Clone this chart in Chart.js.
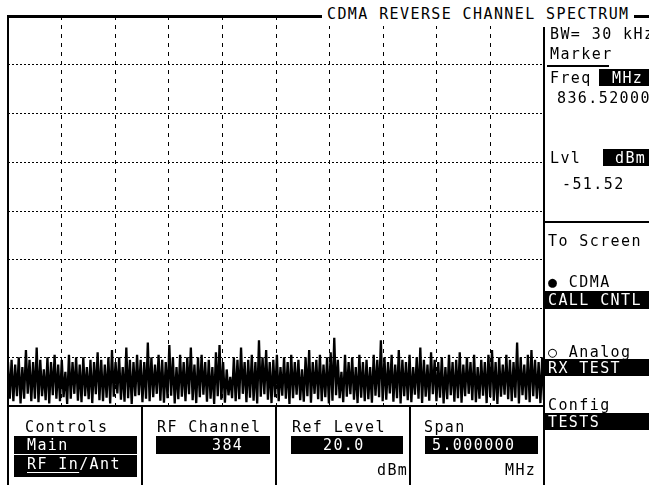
<!DOCTYPE html>
<html>
<head>
<meta charset="utf-8">
<title>CDMA Reverse Channel Spectrum</title>
<script src="https://cdn.jsdelivr.net/npm/chart.js@4"></script>
<style>
  html, body { margin: 0; padding: 0; background: #fff; }
  body { width: 649px; height: 485px; position: relative; overflow: hidden; }
  #scope { position: absolute; left: 0; top: 0; }
  .t {
    position: absolute;
    font-family: "DejaVu Sans Mono", monospace;
    font-size: 15px;
    line-height: 15px;
    letter-spacing: 1.4px;
    color: #000;
    white-space: pre;
  }
  .w { color: #fff; }
  .box, .ln { position: absolute; background: #000; }
  .ul { text-decoration: underline; text-underline-offset: 3px; }
</style>
</head>
<body>
<canvas id="scope" width="649" height="485"></canvas>

<!-- frame -->
<div class="ln" style="left:7px;top:15px;width:2px;height:470px"></div>
<div class="ln" style="left:8px;top:15px;width:314px;height:3px"></div>
<div class="ln" style="left:634px;top:15px;width:15px;height:3px"></div>
<div class="ln" style="left:8px;top:405px;width:536px;height:2px"></div>
<div class="ln" style="left:543px;top:27px;width:2px;height:458px"></div>
<div class="ln" style="left:544px;top:221px;width:105px;height:2px"></div>
<div class="ln" style="left:141px;top:406px;width:2px;height:79px"></div>
<div class="ln" style="left:275px;top:406px;width:2px;height:79px"></div>
<div class="ln" style="left:409px;top:406px;width:2px;height:79px"></div>

<div class="t" style="left:324px;top:5px;background:#fff;padding:2px 2px 4px 3px">CDMA REVERSE CHANNEL SPECTRUM</div>

<!-- right panel -->
<div class="t" style="left:550px;top:27px">BW= 30 kHz</div>
<div class="t" style="left:550px;top:47px">Marker</div>
<div class="ln" style="left:547px;top:65px;width:62px;height:2px"></div>
<div class="t" style="left:550px;top:71px">Freq</div>
<div class="box" style="left:599px;top:69px;width:50px;height:17px"></div>
<div class="t w" style="left:612px;top:71px">MHz</div>
<div class="t" style="left:557px;top:91px">836.52000</div>
<div class="t" style="left:550px;top:151px">Lvl</div>
<div class="box" style="left:603px;top:149px;width:46px;height:17px"></div>
<div class="t w" style="left:615px;top:151px">dBm</div>
<div class="t" style="left:562px;top:177px">-51.52</div>
<div class="t" style="left:548px;top:234px">To Screen</div>
<div class="t" style="left:548px;top:275px">● CDMA</div>
<div class="box" style="left:545px;top:291px;width:104px;height:18px"></div>
<div class="t w" style="left:548px;top:293px">CALL CNTL</div>
<div class="t" style="left:548px;top:345px">○ Analog</div>
<div class="box" style="left:545px;top:359px;width:104px;height:17px"></div>
<div class="t w" style="left:548px;top:361px">RX TEST</div>
<div class="t" style="left:548px;top:398px">Config</div>
<div class="box" style="left:545px;top:413px;width:104px;height:17px"></div>
<div class="t w" style="left:548px;top:415px">TESTS</div>

<!-- bottom panel -->
<div class="t" style="left:25px;top:420px">Controls</div>
<div class="box" style="left:14px;top:436px;width:123px;height:18px"></div>
<div class="t w" style="left:27px;top:438px">Main</div>
<div class="box" style="left:14px;top:455px;width:123px;height:22px"></div>
<div class="t w" style="left:27px;top:457px"><span class="ul">RF In</span>/Ant</div>

<div class="t" style="left:157px;top:420px">RF Channel</div>
<div class="box" style="left:156px;top:436px;width:114px;height:18px"></div>
<div class="t w" style="left:212px;top:438px">384</div>

<div class="t" style="left:292px;top:420px">Ref Level</div>
<div class="box" style="left:291px;top:436px;width:112px;height:18px"></div>
<div class="t w" style="left:323px;top:438px">20.0</div>
<div class="t" style="left:377px;top:463px">dBm</div>

<div class="t" style="left:424px;top:420px">Span</div>
<div class="box" style="left:425px;top:436px;width:113px;height:18px"></div>
<div class="t w" style="left:432px;top:438px">5.000000</div>
<div class="t" style="left:505px;top:463px">MHz</div>

<script>
// trace maxima / minima, left to right (dBm)
const peakDbm = [
  -51, -50.5, -51.5, -50, -52, -48.5, -50.5, -51, -48, -50.5,
  -52.5, -50, -51, -49.5, -51.5, -50.5, -53, -49.5, -51, -50,
  -51.5, -50, -52, -50.5, -51, -49, -50.5, -51.5, -50, -48.5,
  -51, -50, -52, -48, -50.5, -51, -49.5, -50.5, -51, -47,
  -50, -51.5, -49.5, -50.5, -51, -47.5, -50, -52, -49.5, -51,
  -50, -48, -51.5, -50, -49.5, -51, -50.5, -52, -49, -47.5,
  -51, -52.5, -54, -50, -50.5, -48, -51, -50.5, -49.5, -51,
  -46.5, -50, -48.5, -51, -50.5, -49.5, -52, -50, -51, -49.5,
  -51, -50.5, -52.5, -50, -48.5, -51, -50.5, -49.5, -51.5, -50,
  -49, -46, -50.5, -53, -49.5, -51, -50, -52, -49.5, -51,
  -50.5, -52, -49.5, -50.5, -46.5, -50, -51, -49.5, -51.5, -48.5,
  -50.5, -51, -49.5, -52, -50, -48, -50.5, -51.5, -49, -50.5,
  -51, -50, -52, -49.5, -51, -50.5, -49, -51.5, -50, -51,
  -49.5, -52, -50.5, -51, -49.5, -48.5, -51, -50, -51.5, -49.5,
  -50.5, -51, -47, -50, -51.5, -49.5, -48.5, -50.5, -51, -50
];
const floorDbm = [
  -58.5, -59, -58, -59.5, -58.5, -57.5, -59, -58.5, -59.2, -58,
  -58.8, -59.5, -57.8, -58.5, -59, -58.2, -59.6, -58.5, -57.5, -58.9,
  -59.2, -58, -58.6, -59.4, -57.6, -58.8, -59, -58.3, -59.5, -58.1,
  -57.4, -58.7, -59.1, -58.4, -59.6, -58, -57.8, -59.2, -58.5, -59,
  -58.2, -57.5, -58.9, -59.3, -58.4, -57.9, -59.5, -58.6, -58.1, -59,
  -57.6, -58.8, -59.4, -58.2, -57.7, -59.1, -58.5, -59.6, -58, -58.7,
  -59.3, -57.8, -58.4, -59, -58.6, -57.5, -59.2, -58.3, -58.9, -59.5,
  -58.1, -57.6, -58.7, -59.4, -58.2, -59, -57.9, -58.5, -59.6, -58.4,
  -57.7, -58.8, -59.1, -58, -59.3, -57.5, -58.6, -59, -58.2, -59.5,
  -58.9, -57.8, -58.4, -59.2, -58.1, -57.6, -58.7, -59.4, -58.3, -59,
  -58.6, -59.3, -57.9, -58.2, -59, -58.7, -57.4, -59.1, -58.4, -59.5,
  -58, -58.8, -59.2, -57.7, -58.5, -59.4, -58.1, -58.9, -57.6, -59,
  -58.3, -59.5, -58.6, -57.8, -59.1, -58.4, -59.3, -58, -57.5, -58.8,
  -59.2, -58.5, -57.9, -59.4, -58.2, -58.9, -59.6, -58.1, -57.7, -58.6,
  -59, -58.3, -59.5, -57.8, -58.7, -59.2, -58, -58.5, -59.4, -58.8
];

// center 836.52 MHz, span 5 MHz, ref level 20 dBm, 10 dB/div
const startMhz = 834.02;
const stopMhz = 839.02;
const freqGridMhz = [834.02, 834.52, 835.02, 835.52, 836.02, 836.52, 837.02, 837.52, 838.02, 838.52, 839.02];
const levelGridDbm = [-60, -50, -40, -30, -20, -10, 0, 10, 20];

const trace = [];
const binMhz = (stopMhz - startMhz) / (peakDbm.length * 2 - 1);
peakDbm.forEach((p, k) => {
  trace.push({ x: startMhz + 2 * k * binMhz, y: p });
  trace.push({ x: startMhz + (2 * k + 1) * binMhz, y: floorDbm[k] });
});

// edge lines are drawn by the frame divs
const inner = (n) => (c) => (c.index === 0 || c.index === n - 1) ? 'rgba(0,0,0,0)' : '#000';

new Chart(document.getElementById('scope'), {
  type: 'line',
  data: {
    datasets: [{
      data: trace,
      borderColor: '#000',
      borderWidth: 2.3,
      borderJoinStyle: 'bevel',
      pointRadius: 0,
      tension: 0,
      fill: false
    }]
  },
  options: {
    responsive: false,
    animation: false,
    events: [],
    layout: { padding: { left: 8, top: 16, right: 105, bottom: 79 } },
    plugins: { legend: { display: false }, tooltip: { enabled: false } },
    scales: {
      x: {
        type: 'linear',
        min: startMhz,
        max: stopMhz,
        afterBuildTicks: (s) => { s.ticks = freqGridMhz.map(v => ({ value: v })) },
        ticks: { display: false },
        grid: { color: inner(freqGridMhz.length), lineWidth: 1, drawTicks: false },
        border: { display: false, dash: [4, 5] }
      },
      y: {
        min: -60,
        max: 20,
        afterBuildTicks: (s) => { s.ticks = levelGridDbm.map(v => ({ value: v })) },
        ticks: { display: false },
        grid: { color: inner(levelGridDbm.length), lineWidth: 1, drawTicks: false },
        border: { display: false, dash: [2, 2] }
      }
    }
  }
});
</script>
</body>
</html>
